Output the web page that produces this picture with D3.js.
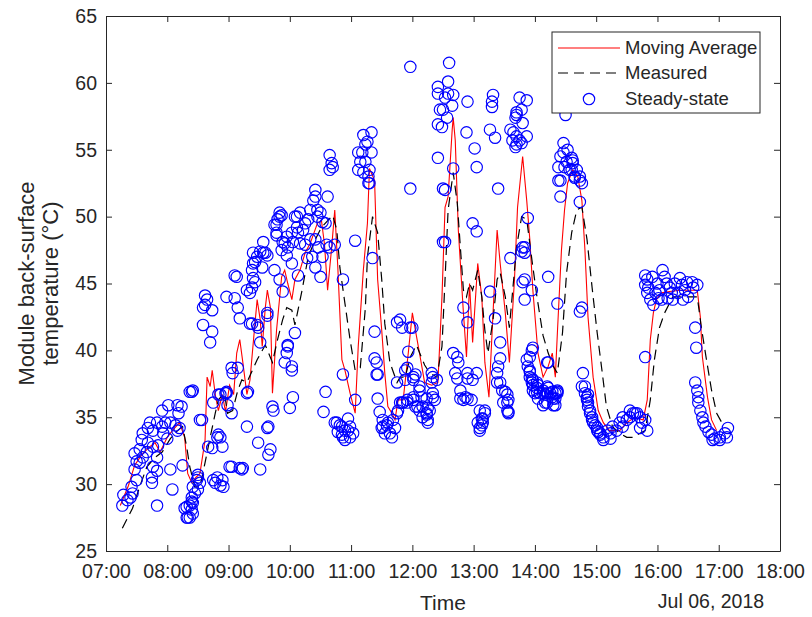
<!DOCTYPE html>
<html>
<head>
<meta charset="utf-8">
<script src="https://d3js.org/d3.v7.min.js"></script>
<style>
  body { margin: 0; background: #fff; }
  text { font-family: "Liberation Sans", Arial, sans-serif; fill: #262626; }
</style>
</head>
<body>
<script>
// ---- data (Jul 06, 2018) ----
var xTicks = ["07:00","08:00","09:00","10:00","11:00","12:00","13:00","14:00","15:00","16:00","17:00","18:00"];
var yTicks = [25, 30, 35, 40, 45, 50, 55, 60, 65];
var legendLabels = ["Moving Average", "Measured", "Steady-state"];

var measured = [
  ["7:16",26.7],["7:26",28.2],["7:33",29.8],["7:40",31.3],["7:48",32.0],["7:55",32.4],["8:03",33.4],["8:10",34.0],
  ["8:15",34.3],["8:19",32.8],["8:22",31.3],["8:27",29.8],["8:32",29.8],["8:37",31.6],["8:42",33.5],["8:47",35.3],
  ["8:50",36.3],["8:56",36.8],["8:59",35.3],["9:04",35.5],["9:09",37.0],["9:13",37.8],["9:18",37.6],["9:28",39.3],
  ["9:36",40.4],["9:43",39.1],["9:48",40.8],["9:53",42.3],["9:57",43.2],["10:02",43.0],["10:05",41.9],["10:12",44.5],
  ["10:18",47.0],["10:25",48.3],["10:31",49.2],["10:42",50.1],["10:46",49.0],["10:49",46.2],["10:54",43.5],["10:59",40.8],
  ["11:04",38.5],["11:09",38.7],["11:14",43.2],["11:16",47.0],["11:21",50.0],["11:26",48.8],["11:30",45.3],["11:33",42.0],
  ["11:38",39.1],["11:45",37.6],["11:48",38.0],["11:53",38.0],["11:58",39.5],["12:04",40.4],["12:12",38.9],["12:17",38.3],
  ["12:24",38.0],["12:29",40.3],["12:32",45.3],["12:35",50.5],["12:40",53.3],["12:44",51.0],["12:47",47.7],["12:50",44.5],
  ["12:53",44.0],["12:56",45.0],["12:59",44.5],["13:04",46.0],["13:08",44.0],["13:11",41.5],["13:14",39.8],["13:19",42.3],
  ["13:23",45.3],["13:26",45.8],["13:31",44.0],["13:35",41.7],["13:42",47.7],["13:47",50.0],["13:52",49.8],["13:57",46.8],
  ["14:02",44.0],["14:08",41.1],["14:13",39.8],["14:18",38.8],["14:22",38.3],["14:27",41.3],["14:31",45.8],["14:36",48.8],
  ["14:41",50.5],["14:46",50.7],["14:51",48.3],["14:56",44.7],["15:01",41.3],["15:06",38.3],["15:10",35.8],["15:16",34.3],
  ["15:23",33.8],["15:30",33.5],["15:36",33.5],["15:43",33.8],["15:48",34.0],["15:53",36.3],["15:57",39.3],["16:02",41.7],
  ["16:07",42.8],["16:15",44.0],["16:27",44.0],["16:39",44.0],["16:43",41.7],["16:48",39.3],["16:53",37.0],["16:58",35.3],
  ["17:03",34.6]
];

var movingAvg = [
  ["7:14",28.4],["7:22",29.9],["7:28",31.4],["7:35",32.2],["7:43",32.8],["7:48",33.1],["7:53",32.4],["8:00",33.5],
  ["8:05",34.0],["8:12",34.6],["8:17",33.5],["8:20",30.8],["8:24",30.1],["8:28",30.5],["8:32",30.8],["8:37",33.3],
  ["8:39",38.0],["8:42",37.3],["8:44",38.5],["8:47",36.7],["8:50",35.5],["8:54",36.7],["8:57",35.4],["9:01",37.4],
  ["9:05",36.7],["9:08",39.8],["9:11",40.8],["9:14",39.1],["9:18",36.7],["9:21",37.8],["9:24",40.4],["9:28",43.8],
  ["9:31",42.3],["9:33",40.3],["9:36",43.2],["9:38",44.5],["9:41",43.2],["9:43",36.8],["9:47",41.5],["9:52",45.5],
  ["9:55",46.0],["9:58",45.0],["10:02",43.8],["10:05",45.3],["10:10",46.0],["10:15",47.3],["10:20",48.0],["10:27",49.5],
  ["10:31",49.7],["10:34",47.9],["10:37",44.5],["10:41",47.7],["10:44",50.5],["10:47",46.2],["10:51",39.3],["10:54",38.5],
  ["10:59",36.8],["11:04",35.3],["11:07",40.3],["11:12",46.0],["11:16",49.5],["11:18",53.6],["11:23",52.7],["11:26",45.3],
  ["11:30",41.5],["11:33",38.3],["11:36",35.8],["11:40",35.3],["11:43",34.8],["11:46",36.3],["11:51",36.3],["11:56",39.8],
  ["12:00",42.8],["12:03",41.5],["12:07",39.8],["12:12",37.6],["12:19",37.4],["12:25",37.6],["12:29",44.0],["12:32",50.7],
  ["12:35",51.5],["12:39",56.5],["12:40",57.4],["12:42",55.7],["12:45",49.0],["12:50",42.8],["12:53",39.5],["12:56",45.0],
  ["12:59",40.6],["13:04",46.5],["13:08",44.0],["13:11",39.1],["13:15",36.5],["13:19",42.8],["13:23",49.0],["13:26",46.5],
  ["13:31",42.8],["13:35",39.1],["13:40",45.3],["13:43",50.7],["13:48",54.5],["13:52",51.2],["13:55",48.3],["13:58",44.5],
  ["14:03",39.8],["14:08",38.0],["14:13",38.8],["14:17",39.8],["14:20",38.0],["14:22",41.3],["14:26",47.5],["14:29",50.5],
  ["14:32",52.5],["14:37",53.5],["14:42",53.0],["14:46",51.2],["14:49",47.5],["14:52",42.5],["14:57",38.0],["15:02",35.5],
  ["15:07",34.6],["15:13",34.0],["15:23",34.0],["15:30",34.6],["15:38",35.0],["15:46",34.8],["15:50",36.3],["15:53",40.8],
  ["15:56",42.8],["15:59",43.8],["16:04",44.3],["16:12",44.4],["16:22",44.5],["16:32",44.5],["16:39",44.5],["16:42",42.5],
  ["16:44",39.5],["16:49",36.5],["16:53",34.8],["16:58",34.0]
];

var steadyState = [
  ["7:17",29.2],["7:16",28.4],["7:24",29.0],["7:21",28.8],["7:26",29.3],["7:25",29.8],["7:30",30.3],["7:28",31.1],
  ["7:30",31.7],["7:33",31.6],["7:36",32.0],["7:33",32.6],["7:35",33.3],["7:36",33.8],["7:41",34.2],["7:43",34.6],
  ["7:46",34.0],["7:50",34.6],["7:55",34.3],["7:58",34.6],["8:03",34.6],["8:08",34.4],["8:12",34.2],["8:10",34.0],
  ["7:41",33.1],["7:46",32.8],["7:51",32.9],["7:56",33.8],["8:00",33.4],["7:40",32.4],["7:50",32.0],["7:46",31.3],
  ["7:45",30.5],["7:50",31.0],["7:55",35.5],["8:01",35.9],["8:10",35.9],["8:14",35.8],["8:11",35.3],["8:22",36.9],
  ["8:34",34.8],["7:28",32.3],["8:03",31.1],["8:05",29.6],["7:45",30.1],["7:50",28.4],["8:15",31.4],["8:19",28.3],
  ["8:17",28.2],["8:22",28.4],["8:19",27.5],["8:20",27.5],["8:25",27.8],["8:24",28.7],["8:27",29.3],["8:30",29.6],
  ["8:29",30.3],["8:30",30.7],["8:32",30.1],["8:40",32.8],["8:44",32.7],["8:45",30.3],["8:49",30.5],["8:54",30.3],
  ["8:55",29.8],["8:52",29.9],["8:50",33.7],["8:54",32.8],["8:52",36.7],["8:58",36.8],["8:59",35.9],["9:03",35.3],
  ["9:18",36.8],["9:18",34.3],["9:29",33.1],["9:39",34.3],["9:41",32.6],["9:43",35.8],["9:44",35.5],["10:00",35.7],
  ["10:03",36.5],["9:03",31.3],["9:13",31.1],["9:14",31.2],["9:31",31.1],["8:32",34.8],["8:24",36.9],["8:25",37.0],
  ["8:45",36.1],["8:57",36.8],["8:49",33.5],["8:52",33.5],["9:04",38.3],["9:19",36.9],["9:39",32.2],["9:01",31.3],
  ["9:11",31.2],["8:47",30.1],["8:30",30.5],["8:25",29.8],["8:24",29.0],["8:25",28.6],["8:24",28.1],["8:22",27.5],
  ["10:35",36.9],["10:33",35.4],["10:52",38.2],["11:04",36.3],["10:46",34.6],["10:51",34.3],["10:57",34.0],["11:02",33.8],
  ["10:52",33.5],["10:59",33.5],["10:47",33.9],["10:54",33.3],["11:26",38.2],["11:26",36.4],["11:28",35.4],["11:31",34.8],
  ["11:36",34.6],["11:41",34.8],["11:38",33.8],["11:31",34.3],["11:45",37.6],["11:53",37.8],["11:51",36.1],["11:55",36.1],
  ["11:46",35.5],
  ["8:37",44.1],["8:39",43.8],["8:37",43.4],["8:35",43.2],["8:44",43.0],["8:35",41.9],["8:44",41.4],["8:42",40.6],
  ["8:58",44.0],["9:06",43.9],["9:08",45.5],["9:06",45.6],["9:09",43.2],["9:11",42.4],["9:21",42.0],["9:28",41.9],
  ["9:38",42.6],["9:31",40.6],["9:18",44.5],["9:23",44.7],["9:21",44.3],["9:26",45.1],["9:24",45.4],["9:23",46.0],
  ["9:26",46.6],["9:24",47.3],["9:33",46.2],["9:34",48.1],["9:34",47.3],["9:38",47.1],["9:45",46.0],["9:50",45.3],
  ["9:53",44.4],["9:47",48.8],["9:45",49.4],["9:50",50.0],["9:52",50.1],["9:55",48.0],["9:57",48.5],["10:02",46.5],
  ["10:02",48.8],["10:05",50.0],["10:07",49.2],["10:05",41.3],["9:58",40.4],["9:57",39.8],["9:55",39.1],["10:02",38.8],
  ["9:03",38.7],["9:09",38.7],["8:58",36.9],["8:50",36.7],
  ["10:25",52.0],["10:25",51.5],["10:23",51.2],["10:37",51.5],["9:50",50.3],["9:48",49.8],["10:10",50.3],["10:07",50.0],
  ["10:15",49.5],["10:18",49.8],["10:27",50.0],["10:27",50.5],["10:30",50.3],["10:32",49.6],["10:35",49.5],["10:08",48.8],
  ["10:13",49.0],["10:03",48.1],["10:10",48.0],["10:15",47.9],["10:20",48.3],["10:25",48.3],["10:28",47.7],["10:36",47.9],
  ["10:44",47.9],["10:39",47.7],["9:47",49.4],["9:47",48.6],["9:53",48.1],["9:58",47.7],["9:52",47.5],["9:57",47.1],
  ["9:31",47.4],["9:28",47.0],["9:36",47.3],["9:24",46.5],["10:08",45.6],["10:17",46.9],["10:22",47.0],["10:25",46.2],
  ["10:32",47.0],["10:30",45.5],["11:04",48.2],["11:21",46.9],["10:52",45.3],["9:23",42.0],["9:29",41.7],["9:38",42.8],
  ["9:58",40.3],["10:02",38.5],["9:38",34.2],["11:23",41.4],["11:23",39.4],["11:25",39.1],["11:25",38.2],["11:45",42.1],
  ["11:48",42.3],["11:50",41.7],["12:00",41.7],["11:56",39.9],["11:53",38.5],["12:19",38.3],["12:30",48.1],["12:32",52.0],
  ["11:58",52.1],["11:17",52.5],
  ["10:44",34.6],["10:49",34.4],["10:54",34.0],["10:51",33.7],["10:59",34.3],["10:57",34.9],["11:35",34.4],["11:30",34.2],
  ["11:33",33.8],["11:40",33.5],["11:43",34.2],["11:45",35.3],["11:48",36.1],["12:01",36.3],["12:05",35.8],["12:07",35.5],
  ["12:10",35.8],["12:14",35.3],["12:17",35.5],["12:22",36.3],["12:20",36.8],["12:10",35.0],["12:15",34.8],["12:07",37.3],
  ["12:01",37.8],["11:55",38.7],
  ["10:39",54.6],["10:41",54.0],["10:42",53.7],["10:39",53.5],["11:12",56.1],["11:20",56.3],["11:16",55.6],["11:14",55.4],
  ["11:07",54.8],["11:11",54.8],["11:20",54.8],["11:09",54.1],["11:14",54.1],["11:18",53.5],["11:07",53.5],["11:12",53.3],
  ["11:17",53.0],["11:18",52.5],["12:25",59.2],["12:27",58.0],["12:25",56.9],["12:25",54.4],["10:20",50.5],
  ["11:58",61.2],["12:36",61.5],["12:35",60.1],["12:25",59.7],["12:35",59.2],["12:40",59.1],["12:32",58.9],["12:30",58.0],
  ["12:39",58.3],["12:34",57.4],["12:29",56.7],["12:54",58.6],["12:53",56.3],["13:01",55.1],["13:03",53.7],["12:40",53.6],
  ["12:30",52.1],["12:32",48.1],["12:59",49.5],["13:03",48.9],["13:16",56.5],["13:21",55.9],["13:18",58.6],["13:19",59.1],
  ["13:18",58.2],["13:24",52.1],["13:45",58.9],["13:42",57.8],["13:41",57.4],["13:42",57.6],["13:36",56.5],["13:39",56.3],
  ["13:38",55.7],["13:42",56.0],["13:45",55.7],["13:41",55.2],["13:42",55.4],["13:47",55.5],["13:52",56.0],["13:52",58.7],
  ["13:47",58.0],["13:48",57.0],["14:30",57.6],["14:28",55.5],["14:25",54.5],["14:23",53.7],["14:28",54.8],["14:32",55.0],
  ["14:36",54.4],["14:31",54.1],["14:37",54.0],["14:41",53.5],["14:34",53.5],["14:23",52.7],["14:25",51.5],["14:44",51.1],
  ["14:39",53.0],["14:44",53.0],["14:46",52.5],["14:29",53.7],["14:36",53.5],["13:53",49.9],["13:48",47.7],["13:47",47.4],
  ["13:36",46.9],["13:48",45.1],["13:50",43.8],["13:57",44.5],["14:13",45.5],["14:22",43.5],["14:46",43.2],["14:44",42.9],
  ["12:50",43.2],["12:54",42.1],["13:16",44.4],["13:21",42.4],["13:26",40.6],["13:26",39.4],["13:24",38.8],["13:23",38.3],
  ["13:23",37.6],["13:28",37.0],["13:31",36.9],["13:33",36.7],["13:33",36.1],["13:34",35.4],["13:29",36.1],["13:06",35.5],
  ["13:11",35.3],["13:08",34.9],["13:09",34.6],["13:04",34.6],["13:06",34.2],["12:40",39.8],["12:44",39.5],["12:45",39.1],
  ["12:42",38.3],["12:44",37.9],["12:47",37.0],["12:52",36.5],["12:54",36.4],["12:58",36.3],["12:50",36.3],["12:54",38.3],
  ["12:59",37.8],["13:03",38.3],["13:52",39.3],["13:53",38.8],["13:55",38.0],["13:57",37.6],["13:58",37.0],["14:02",36.9],
  ["14:05",36.8],["14:08",37.0],["14:12",36.8],["14:17",36.5],["14:20",36.8],["14:22",37.0],["14:13",39.1],["14:12",36.1],
  ["14:18",35.9],["14:02",37.6],["14:47",38.3],["14:46",37.3],["14:51",36.5],["14:52",36.1],["14:54",35.5],["14:56",35.0],
  ["14:57",34.6],["15:01",34.2],["15:04",33.7],["12:01",38.0],["12:20",38.0],["12:19",37.6],
  ["11:58",41.7],["12:03",38.2],["12:24",37.8],["12:07",37.0],["12:09",36.5],["12:14",36.4],["12:01",36.5],["11:55",36.3],
  ["11:50",36.1],["12:03",35.8],["12:15",35.7],["12:20",36.5],["12:14",35.2],["12:15",34.6],["12:47",36.4],["12:54",37.9],
  ["13:11",35.5],["13:09",34.9],["13:08",34.4],["13:06",34.0],["13:26",37.6],["13:34",36.3],["13:33",35.5],["13:34",35.3],
  ["13:57",40.0],["13:55",39.5],["13:55",38.5],["13:57",37.9],["13:58",37.4],["14:02",37.2],["14:10",36.7],["14:13",37.2],
  ["14:17",36.9],["14:22",36.9],["14:20",36.4],["14:08",35.9],["14:12",39.1],["14:49",37.3],["14:52",36.7],["15:02",33.9],
  ["13:50",47.7],["13:50",47.3],["13:50",45.3],["13:58",40.2],["13:55",38.4],["13:58",37.8],["14:03",37.4],["14:00",36.8],
  ["14:03",36.4],["14:08",36.8],["14:10",36.1],["14:15",36.8],["14:18",36.4],["14:22",36.8],["14:20",35.9],["14:12",37.3],
  ["14:37",54.2],["14:44",52.7],["14:39",52.9],["14:25",52.7],["14:49",36.8],["14:51",36.3],["14:52",35.8],["14:54",35.3],
  ["14:56",34.8],["14:59",34.4],["15:01",34.0],["15:04",33.8],["15:07",33.5],["15:11",34.0],["15:14",33.8],["15:16",34.3],
  ["15:20",34.0],["15:23",34.6],["15:26",34.3],["15:30",34.8],["15:33",35.0],["15:36",35.3],["15:40",35.3],["15:43",35.0],
  ["15:45",34.6],["15:48",34.8],["15:43",34.2],["15:50",34.0],["15:48",39.5],["15:07",33.3],["15:14",33.4],
  ["15:48",45.6],["15:50",45.3],["15:51",44.7],["15:48",44.9],["15:50",44.3],["15:53",43.8],["15:56",43.4],["15:55",45.5],
  ["16:00",45.0],["15:58",44.3],["16:02",44.5],["16:01",43.9],["16:05",46.0],["16:07",45.5],["16:09",45.0],["16:12",44.7],
  ["16:14",44.3],["16:10",43.9],["16:17",45.0],["16:22",45.4],["16:24",44.9],["16:20",44.3],["16:27",44.5],["16:30",44.0],
  ["16:29",45.1],["16:34",45.1],["16:35",44.7],["16:39",44.9],["16:15",43.8],["16:04",43.8],["16:25",43.8],["16:37",41.7],
  ["16:38",40.2],["16:37",37.6],["16:39",37.0],["16:40",36.5],["16:40",36.1],["16:42",35.5],["16:44",35.0],["16:45",34.6],
  ["16:47",34.3],["16:50",33.9],["16:53",33.7],["16:56",33.4],["17:01",33.5],["17:06",33.8],["17:09",34.2],["17:08",33.5],
  ["17:01",33.3],["16:54",33.3],["15:26",35.0],["15:33",35.5],["15:38",35.3]
];

// ---- chart ----
var W = 812, H = 617;
var plotL = 106, plotR = 780, plotT = 16, plotB = 551;
var parseT = d3.timeParse("%Y-%m-%d %H:%M");
var day = "2018-07-06 ";
function t(s) { return parseT(day + s); }

var svg = d3.select("body").append("svg")
    .attr("width", W)
    .attr("height", H)
    .style("background", "#fff");

var x = d3.scaleTime()
    .domain([t(xTicks[0]), t(xTicks[xTicks.length - 1])])
    .range([plotL, plotR]);
var y = d3.scaleLinear()
    .domain([yTicks[0], yTicks[yTicks.length - 1]])
    .range([plotB, plotT]);

var xTickVals = xTicks.map(t);
var fmt = d3.timeFormat("%H:%M");
var dash = "10,6";

// lines
var line = d3.line()
    .x(function(d) { return x(t(d[0])); })
    .y(function(d) { return y(d[1]); });

svg.append("path")
    .datum(movingAvg)
    .attr("d", line)
    .attr("fill", "none")
    .attr("stroke", "#ff0000")
    .attr("stroke-width", 1.1);

svg.append("path")
    .datum(measured)
    .attr("d", line)
    .attr("fill", "none")
    .attr("stroke", "#000")
    .attr("stroke-width", 1.2)
    .attr("stroke-dasharray", dash);

svg.append("g").selectAll("circle")
    .data(steadyState)
  .enter().append("circle")
    .attr("cx", function(d) { return x(t(d[0])); })
    .attr("cy", function(d) { return y(d[1]); })
    .attr("r", 5.7)
    .attr("fill", "none")
    .attr("stroke", "#0000ff")
    .attr("stroke-width", 1.15);

// axes, matlab style box with inward ticks
var axisColor = "#262626";
var gx = svg.append("g")
    .attr("transform", "translate(0," + plotB + ")")
    .call(d3.axisBottom(x).tickValues(xTickVals).tickFormat(fmt)
      .tickSizeInner(-6).tickSizeOuter(0).tickPadding(13));
var gy = svg.append("g")
    .attr("transform", "translate(" + plotL + ",0)")
    .call(d3.axisLeft(y).tickValues(yTicks)
      .tickSizeInner(-6).tickSizeOuter(0).tickPadding(9));
var gt = svg.append("g")
    .attr("transform", "translate(0," + plotT + ")")
    .call(d3.axisTop(x).tickValues(xTickVals).tickFormat("")
      .tickSizeInner(-6).tickSizeOuter(0));
var gr = svg.append("g")
    .attr("transform", "translate(" + plotR + ",0)")
    .call(d3.axisRight(y).tickValues(yTicks).tickFormat("")
      .tickSizeInner(-6).tickSizeOuter(0));

[gx, gy, gt, gr].forEach(function(g) {
  g.select(".domain").attr("stroke", axisColor);
  g.selectAll(".tick line").attr("stroke", axisColor);
  g.selectAll(".tick text")
    .attr("fill", axisColor)
    .style("font-family", '"Liberation Sans", Arial, sans-serif')
    .style("font-size", "19.5px");
});

// axis labels
svg.append("text")
    .attr("x", (plotL + plotR) / 2)
    .attr("y", 610)
    .attr("text-anchor", "middle")
    .style("font-size", "21px")
    .text("Time");

svg.append("text")
    .attr("x", 711)
    .attr("y", 608)
    .attr("text-anchor", "middle")
    .style("font-size", "19.5px")
    .text("Jul 06, 2018");

var yl = svg.append("text")
    .attr("transform", "translate(38," + ((plotT + plotB) / 2) + ") rotate(-90)")
    .attr("text-anchor", "middle")
    .style("font-size", "22px");
yl.append("tspan").attr("x", 0).attr("y", -4).text("Module back-surface");
yl.append("tspan").attr("x", 0).attr("y", 20).text("temperature (\u00B0C)");

// legend
var lg = svg.append("g");
lg.append("rect")
    .attr("x", 552).attr("y", 32)
    .attr("width", 208).attr("height", 81)
    .attr("fill", "#fff")
    .attr("stroke", axisColor);

var rowY = [48, 73, 99];
lg.append("line")
    .attr("x1", 558).attr("x2", 620).attr("y1", rowY[0]).attr("y2", rowY[0])
    .attr("stroke", "#ff0000").attr("stroke-width", 1.1);
lg.append("line")
    .attr("x1", 558).attr("x2", 620).attr("y1", rowY[1]).attr("y2", rowY[1])
    .attr("stroke", "#000").attr("stroke-width", 1.2).attr("stroke-dasharray", dash);
lg.append("circle")
    .attr("cx", 589).attr("cy", rowY[2]).attr("r", 5.7)
    .attr("fill", "none").attr("stroke", "#0000ff").attr("stroke-width", 1.15);

lg.selectAll("text.lab")
    .data(legendLabels)
  .enter().append("text")
    .attr("class", "lab")
    .attr("x", 625)
    .attr("y", function(d, i) { return rowY[i]; })
    .attr("dy", "0.35em")
    .style("font-size", "18.5px")
    .text(function(d) { return d; });
</script>
</body>
</html>
